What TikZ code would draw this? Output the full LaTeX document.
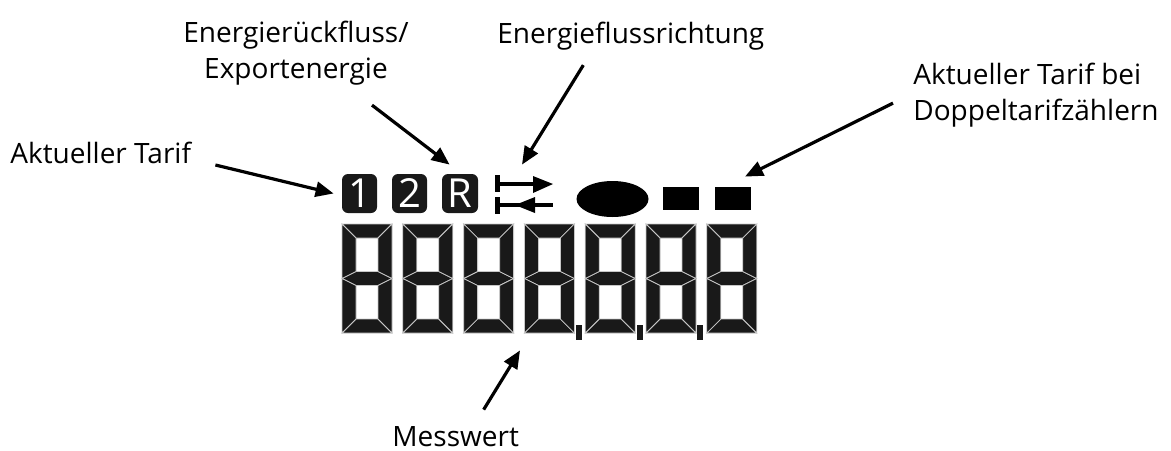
\documentclass[tikz,border=0pt]{standalone}
\usepackage{fontspec}
\setmainfont{Open Sans}
\usetikzlibrary{arrows.meta, shapes.geometric, positioning}

\begin{document}
\begin{tikzpicture}[
        x=0.5pt, y=-0.5pt,
        font=\fontsize{14}{18}\selectfont,
        % Styles
        label/.style={inner sep=0pt, align=left},
        arrow/.style={-{Triangle[length=9pt,width=7.5pt]}, line width=1.6pt},
        tarifbox/.style={rectangle, fill=black!90, rounded corners=3pt, minimum width=17.5pt, minimum height=19.5pt, inner sep=0pt, text=white, font=\fontsize{20}{20}\selectfont},
        seg/.style={fill=black!90, draw=black!22, line width=0.4pt},
        digitbox/.style={rectangle, inner sep=0pt, minimum width=25pt, minimum height=54.5pt},
        block/.style={rectangle, fill=black, inner sep=0pt, minimum width=18pt, minimum height=11.5pt}
    ]
    \useasboundingbox (0,0) rectangle (1171,450);

    % --- LABELS ---
    \node (tarif) [label, anchor=base west] at (10,163) {Aktueller Tarif};
    \node (rueck) [label, align=center, anchor=base] at (296,78) {Energierückfluss/\\Exportenergie};
    \node (richtung) [label, anchor=base west] at (497,43) {Energieflussrichtung};
    \node (doppel) [label, anchor=base west] at (913,120) {Aktueller Tarif bei\\Doppeltarifzählern};
    \node (mess) [label, anchor=base west] at (392,446) {Messwert};

    % --- SYMBOL ROW ---
    \node (one) [tarifbox] at (359.5,193.5) {1};
    \node (two) [tarifbox] at (409.5,193.5) {2};
    \node (rev) [tarifbox, minimum width=18pt] at (460,193.5) {R};

    \node (flow) [rectangle, inner sep=0pt, minimum width=29pt, minimum height=19pt] at (524,194) {};
    \fill (495,175) rectangle (500,192);
    \draw [line width=2pt] (500,184) -- (535,184);
    \fill (533,176) -- (553,184) -- (533,193) -- cycle;
    \fill (495,197) rectangle (500,214);
    \draw [line width=2pt] (500,205) -- (553,205);
    \fill (535,197) -- (515,205) -- (535,213) -- cycle;

    \node (ell) [ellipse, fill=black, inner sep=0pt, minimum width=36pt, minimum height=18pt] at (612.5,199) {};
    \node (sqa) [block] at (681,198.5) {};
    \node (sqb) [block] at (733,198.5) {};

    % --- SEVEN SEGMENT DIGITS ---
    \foreach \i in {0,...,6} {
        \begin{scope}[shift={(342+60.8*\i,224)}]
            \node (d\i) [digitbox] at (25,54.5) {};
            \draw [seg] (0,0) -- (50,0) -- (36,14) -- (14,14) -- cycle;
            \draw [seg] (0,109) -- (50,109) -- (36,95) -- (14,95) -- cycle;
            \draw [seg] (0,54.5) -- (14,47.5) -- (36,47.5) -- (50,54.5) -- (36,61.5) -- (14,61.5) -- cycle;
            \draw [seg] (0,0) -- (14,14) -- (14,47.5) -- (0,54.5) -- cycle;
            \draw [seg] (0,54.5) -- (14,61.5) -- (14,95) -- (0,109) -- cycle;
            \draw [seg] (50,0) -- (50,54.5) -- (36,47.5) -- (36,14) -- cycle;
            \draw [seg] (50,54.5) -- (50,109) -- (36,95) -- (36,61.5) -- cycle;
        \end{scope}
    }
    % decimal points
    \foreach \i in {3,4,5}
        \fill [black!90] ([shift={(1,-8)}]d\i.south east) rectangle ++(6,15);

    % --- CONNECTIONS ---
    \draw [arrow] ([shift={(24,2)}]tarif.base east) -- ([shift={(-8,0)}]one.west);
    \draw [arrow] ([shift={(76,20)}]rueck.south) -- ([shift={(8,-9)}]rev.north west);
    \draw [arrow] ([shift={(-47.5,15)}]richtung.south) -- ([shift={(-2,-10)}]flow.north);
    \draw [arrow] ([shift={(-20,8.5)}]doppel.west) -- ([shift={(12,-10)}]sqb.north);
    \draw [arrow] ([shift={(28,-16)}]mess.north) -- ([shift={(-4,17)}]d3.south west);

\end{tikzpicture}
\end{document}
